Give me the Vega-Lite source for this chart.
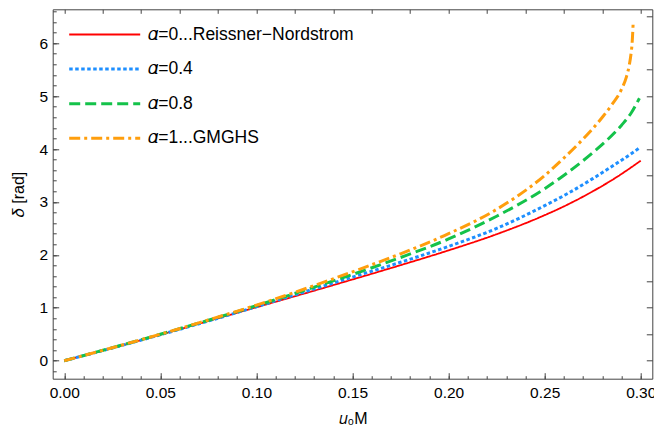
{
  "$schema": "https://vega.github.io/schema/vega-lite/v6.json",
  "width": 599.6,
  "height": 369.4,
  "autosize": "none",
  "padding": {"left": 52.7, "top": 9.3, "right": 1.7, "bottom": 52.3},
  "config": {
    "view": {"stroke": "#444444", "strokeWidth": 1},
    "axis": {
      "domain": false,
      "grid": false,
      "tickColor": "#444444",
      "tickWidth": 1,
      "labelFont": "Liberation Sans",
      "labelFontSize": 15.5,
      "labelColor": "#000000",
      "titleFont": "Liberation Sans",
      "titleFontSize": 16,
      "titleFontWeight": "normal",
      "titleColor": "#000000"
    }
  },
  "datasets": {
    "c": [
      {"s": "𝛼=0...Reissner−Nordstrom", "u": 0, "d": 0},
      {"s": "𝛼=0...Reissner−Nordstrom", "u": 0.025, "d": 0.24},
      {"s": "𝛼=0...Reissner−Nordstrom", "u": 0.05, "d": 0.49},
      {"s": "𝛼=0...Reissner−Nordstrom", "u": 0.075, "d": 0.75},
      {"s": "𝛼=0...Reissner−Nordstrom", "u": 0.1, "d": 1.01},
      {"s": "𝛼=0...Reissner−Nordstrom", "u": 0.125, "d": 1.27},
      {"s": "𝛼=0...Reissner−Nordstrom", "u": 0.15, "d": 1.535},
      {"s": "𝛼=0...Reissner−Nordstrom", "u": 0.175, "d": 1.805},
      {"s": "𝛼=0...Reissner−Nordstrom", "u": 0.2, "d": 2.085},
      {"s": "𝛼=0...Reissner−Nordstrom", "u": 0.225, "d": 2.39},
      {"s": "𝛼=0...Reissner−Nordstrom", "u": 0.25, "d": 2.75},
      {"s": "𝛼=0...Reissner−Nordstrom", "u": 0.2625, "d": 2.96},
      {"s": "𝛼=0...Reissner−Nordstrom", "u": 0.275, "d": 3.2},
      {"s": "𝛼=0...Reissner−Nordstrom", "u": 0.2875, "d": 3.47},
      {"s": "𝛼=0...Reissner−Nordstrom", "u": 0.3, "d": 3.78},
      {"s": "𝛼=0.4", "u": 0, "d": 0},
      {"s": "𝛼=0.4", "u": 0.025, "d": 0.24},
      {"s": "𝛼=0.4", "u": 0.05, "d": 0.49},
      {"s": "𝛼=0.4", "u": 0.075, "d": 0.75},
      {"s": "𝛼=0.4", "u": 0.1, "d": 1.02},
      {"s": "𝛼=0.4", "u": 0.125, "d": 1.3},
      {"s": "𝛼=0.4", "u": 0.15, "d": 1.58},
      {"s": "𝛼=0.4", "u": 0.175, "d": 1.86},
      {"s": "𝛼=0.4", "u": 0.2, "d": 2.16},
      {"s": "𝛼=0.4", "u": 0.225, "d": 2.5},
      {"s": "𝛼=0.4", "u": 0.25, "d": 2.93},
      {"s": "𝛼=0.4", "u": 0.2625, "d": 3.17},
      {"s": "𝛼=0.4", "u": 0.275, "d": 3.44},
      {"s": "𝛼=0.4", "u": 0.2875, "d": 3.73},
      {"s": "𝛼=0.4", "u": 0.295, "d": 3.91},
      {"s": "𝛼=0.4", "u": 0.2997, "d": 4.03},
      {"s": "𝛼=0.8", "u": 0, "d": 0},
      {"s": "𝛼=0.8", "u": 0.025, "d": 0.245},
      {"s": "𝛼=0.8", "u": 0.05, "d": 0.5},
      {"s": "𝛼=0.8", "u": 0.075, "d": 0.765},
      {"s": "𝛼=0.8", "u": 0.1, "d": 1.04},
      {"s": "𝛼=0.8", "u": 0.125, "d": 1.33},
      {"s": "𝛼=0.8", "u": 0.15, "d": 1.63},
      {"s": "𝛼=0.8", "u": 0.175, "d": 1.95},
      {"s": "𝛼=0.8", "u": 0.2, "d": 2.3},
      {"s": "𝛼=0.8", "u": 0.225, "d": 2.73},
      {"s": "𝛼=0.8", "u": 0.25, "d": 3.25},
      {"s": "𝛼=0.8", "u": 0.2625, "d": 3.57},
      {"s": "𝛼=0.8", "u": 0.275, "d": 3.93},
      {"s": "𝛼=0.8", "u": 0.2825, "d": 4.17},
      {"s": "𝛼=0.8", "u": 0.29, "d": 4.45},
      {"s": "𝛼=0.8", "u": 0.295, "d": 4.68},
      {"s": "𝛼=0.8", "u": 0.2993, "d": 4.96},
      {"s": "𝛼=1...GMGHS", "u": 0, "d": 0},
      {"s": "𝛼=1...GMGHS", "u": 0.025, "d": 0.245},
      {"s": "𝛼=1...GMGHS", "u": 0.05, "d": 0.5},
      {"s": "𝛼=1...GMGHS", "u": 0.075, "d": 0.77},
      {"s": "𝛼=1...GMGHS", "u": 0.1, "d": 1.05},
      {"s": "𝛼=1...GMGHS", "u": 0.125, "d": 1.355},
      {"s": "𝛼=1...GMGHS", "u": 0.15, "d": 1.68},
      {"s": "𝛼=1...GMGHS", "u": 0.175, "d": 2.02},
      {"s": "𝛼=1...GMGHS", "u": 0.2, "d": 2.4},
      {"s": "𝛼=1...GMGHS", "u": 0.225, "d": 2.86},
      {"s": "𝛼=1...GMGHS", "u": 0.25, "d": 3.5},
      {"s": "𝛼=1...GMGHS", "u": 0.26, "d": 3.83},
      {"s": "𝛼=1...GMGHS", "u": 0.27, "d": 4.19},
      {"s": "𝛼=1...GMGHS", "u": 0.28, "d": 4.6},
      {"s": "𝛼=1...GMGHS", "u": 0.285, "d": 4.84},
      {"s": "𝛼=1...GMGHS", "u": 0.29, "d": 5.13},
      {"s": "𝛼=1...GMGHS", "u": 0.2925, "d": 5.36},
      {"s": "𝛼=1...GMGHS", "u": 0.294, "d": 5.58},
      {"s": "𝛼=1...GMGHS", "u": 0.295, "d": 5.82},
      {"s": "𝛼=1...GMGHS", "u": 0.2955, "d": 6.0},
      {"s": "𝛼=1...GMGHS", "u": 0.296, "d": 6.35}
    ]
  },
  "layer": [
    {
      "data": {"name": "c"},
      "mark": {"type": "line", "interpolate": "monotone", "clip": true},
      "encoding": {
        "x": {
          "field": "u", "type": "quantitative",
          "scale": {"domain": [-0.006, 0.306], "nice": false, "zero": false},
          "axis": {"orient": "bottom", "values": [0, 0.05, 0.1, 0.15, 0.2, 0.25, 0.3], "format": ".2f", "tickSize": -6, "labelPadding": 13, "title": "𝑢₀M", "titlePadding": 9}
        },
        "y": {
          "field": "d", "type": "quantitative",
          "scale": {"domain": [-0.34, 6.64], "nice": false, "zero": false},
          "axis": {"orient": "left", "values": [0, 1, 2, 3, 4, 5, 6], "tickSize": -6, "labelPadding": 11, "title": "𝛿 [rad]", "titlePadding": 13}
        },
        "color": {
          "field": "s", "type": "nominal",
          "scale": {"domain": ["𝛼=0...Reissner−Nordstrom", "𝛼=0.4", "𝛼=0.8", "𝛼=1...GMGHS"], "range": ["#ff0000", "#1e8fff", "#14c24a", "#ff9e0d"]},
          "legend": {"orient": "none", "legendX": 15, "legendY": 15.2, "title": null, "symbolType": "stroke", "symbolSize": 5041, "clipHeight": 20, "rowPadding": 14.6, "labelFont": "Liberation Sans", "labelFontSize": 17.5, "labelColor": "#000000", "labelOffset": 6.5, "labelLimit": 400}
        },
        "strokeDash": {
          "field": "s", "type": "nominal",
          "scale": {"domain": ["𝛼=0...Reissner−Nordstrom", "𝛼=0.4", "𝛼=0.8", "𝛼=1...GMGHS"], "range": [[1, 0], [3.5, 2.5], [11, 5], [11, 4, 3, 4]]},
          "legend": {"orient": "none", "legendX": 15, "legendY": 15.2, "title": null, "symbolType": "stroke", "symbolSize": 5041, "clipHeight": 20, "rowPadding": 14.6, "labelFont": "Liberation Sans", "labelFontSize": 17.5, "labelColor": "#000000", "labelOffset": 6.5, "labelLimit": 400}
        },
        "strokeWidth": {
          "field": "s", "type": "nominal",
          "scale": {"type": "ordinal", "domain": ["𝛼=0...Reissner−Nordstrom", "𝛼=0.4", "𝛼=0.8", "𝛼=1...GMGHS"], "range": [1.8, 3, 3, 3]},
          "legend": {"orient": "none", "legendX": 15, "legendY": 15.2, "title": null, "symbolType": "stroke", "symbolSize": 5041, "clipHeight": 20, "rowPadding": 14.6, "labelFont": "Liberation Sans", "labelFontSize": 17.5, "labelColor": "#000000", "labelOffset": 6.5, "labelLimit": 400}
        }
      }
    },
    {
      "data": {"name": "c"},
      "mark": {"type": "point", "opacity": 0},
      "encoding": {
        "x": {
          "field": "u", "type": "quantitative",
          "scale": {"domain": [-0.006, 0.306], "nice": false, "zero": false},
          "axis": {"orient": "bottom", "values": [0, 0.01, 0.02, 0.03, 0.04, 0.05, 0.06, 0.07, 0.08, 0.09, 0.1, 0.11, 0.12, 0.13, 0.14, 0.15, 0.16, 0.17, 0.18, 0.19, 0.2, 0.21, 0.22, 0.23, 0.24, 0.25, 0.26, 0.27, 0.28, 0.29, 0.3], "tickSize": -3, "labels": false, "title": null}
        },
        "y": {
          "field": "d", "type": "quantitative",
          "scale": {"domain": [-0.34, 6.64], "nice": false, "zero": false},
          "axis": {"orient": "left", "values": [-0.2, 0, 0.2, 0.4, 0.6, 0.8, 1, 1.2, 1.4, 1.6, 1.8, 2, 2.2, 2.4, 2.6, 2.8, 3, 3.2, 3.4, 3.6, 3.8, 4, 4.2, 4.4, 4.6, 4.8, 5, 5.2, 5.4, 5.6, 5.8, 6, 6.2, 6.4, 6.6], "tickSize": -3.5, "labels": false, "title": null}
        }
      }
    },
    {
      "data": {"name": "c"},
      "mark": {"type": "point", "opacity": 0},
      "encoding": {
        "x": {
          "field": "u", "type": "quantitative",
          "scale": {"domain": [-0.006, 0.306], "nice": false, "zero": false},
          "axis": {"orient": "top", "values": [0, 0.02, 0.04, 0.06, 0.08, 0.1, 0.12, 0.14, 0.16, 0.18, 0.2, 0.22, 0.24, 0.26, 0.28, 0.3], "tickSize": -4, "labels": false, "title": null}
        },
        "y": {
          "field": "d", "type": "quantitative",
          "scale": {"domain": [-0.34, 6.64], "nice": false, "zero": false},
          "axis": {"orient": "right", "values": [0, 0.5, 1, 1.5, 2, 2.5, 3, 3.5, 4, 4.5, 5, 5.5, 6, 6.5], "tickSize": -6, "labels": false, "title": null}
        }
      }
    }
  ],
  "resolve": {"axis": {"x": "independent", "y": "independent"}}
}
